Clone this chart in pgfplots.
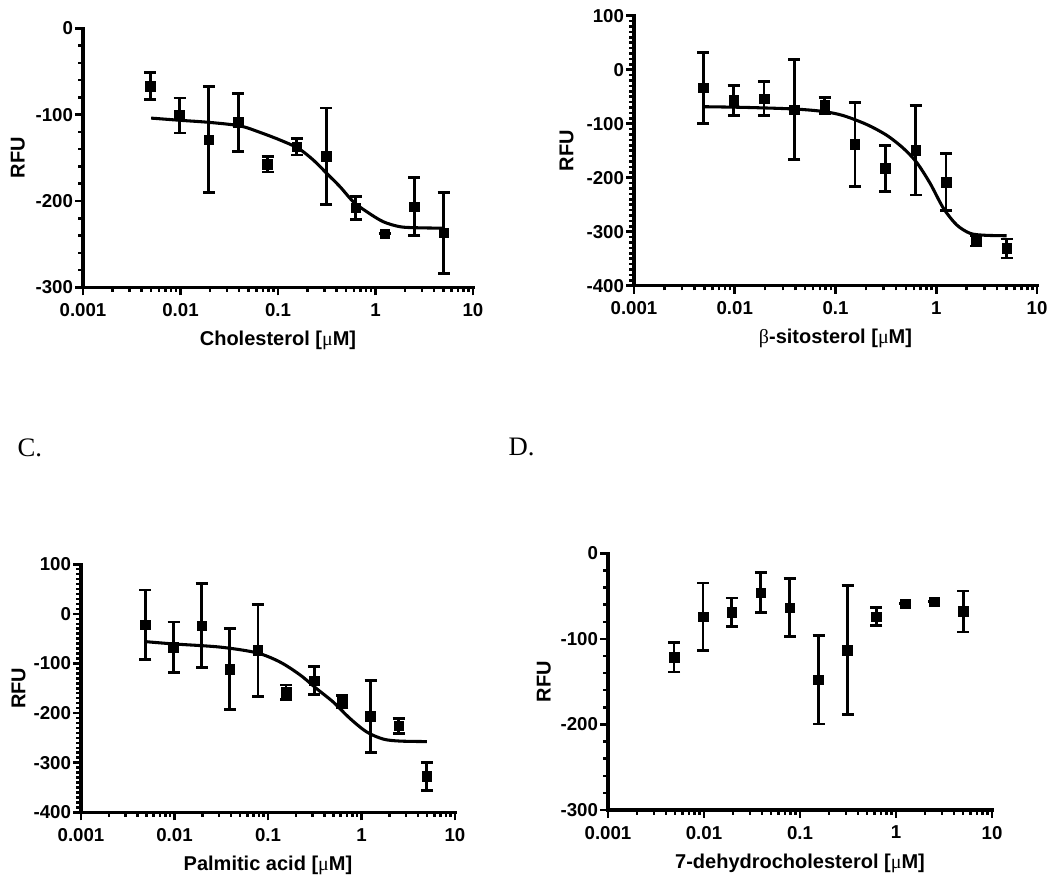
\documentclass[border=0pt]{standalone}
\usepackage{pgfplots}
\pgfplotsset{compat=1.18}
\usepackage{fontspec}
\setmainfont{Liberation Sans}
\newfontfamily\serifsym{Liberation Serif}
\newcommand{\mus}{{\serifsym\mdseries μ}}
\newcommand{\betas}{{\serifsym\mdseries β}}
\pgfplotsset{
  every axis/.append style={
    scale only axis,
    xmin=0.001, xmax=10,
    axis x line*=bottom, axis y line*=left,
    axis line style={line width=2.5pt, line cap=rect},
    tick align=outside,
    major tick length=6pt, minor tick length=3.5pt,
    xtick={0.001,0.01,0.1,1,10},
    xticklabels={0.001,0.01,0.1,1,10},
    minor xtick={0.002,0.003,0.004,0.005,0.006,0.007,0.008,0.009,
                 0.02,0.03,0.04,0.05,0.06,0.07,0.08,0.09,
                 0.2,0.3,0.4,0.5,0.6,0.7,0.8,0.9,
                 2,3,4,5,6,7,8,9},
    tick label style={font=\fontsize{14}{16}\selectfont\bfseries},
    xticklabel style={yshift=-2.5pt},
    yticklabel style={xshift=2pt},
    label style={font=\fontsize{15}{18}\selectfont\bfseries},
    xlabel style={at={(axis description cs:0.5,0)}, anchor=center, yshift=-39.75pt},
    ylabel style={at={(axis description cs:-0.167,0.5)}, anchor=center},
    ylabel={RFU},
    clip=false,
  },
  every tick/.append style={line width=1.9pt, black},
}
\begin{document}
\begin{tikzpicture}
\path[use as bounding box] (0,0) rectangle (787.5pt,663pt);

% Panel A
\begin{semilogxaxis}[at={(62.25pt,447.5pt)}, anchor=south west,
  width=292.5pt, height=194.25pt,
  ymin=-300, ymax=0, ytick={-300,-200,-100,0}, yticklabels={-300,-200,-100,0},
  minor y tick num=4,
  xlabel={Cholesterol [\mus M]}]
\addplot[black, line width=2.3pt, smooth, no markers] coordinates {
 (0.005,-104) (0.0098,-106.5) (0.02,-109) (0.0407,-113) (0.0653,-120.5)
 (0.105,-129.4) (0.1615,-139) (0.23,-152.5) (0.316,-168) (0.433,-183.5)
 (0.592,-200.9) (0.812,-212.4) (1.2,-224) (1.78,-229.8) (2.65,-231) (5,-231.5)};
\addplot[only marks, mark=square*, mark size=3.6pt, black,
  error bars/.cd, y dir=both, y explicit,
  error bar style={line width=2.1pt, black},
  error mark options={rotate=90, line width=2.1pt, mark size=4.5pt, black}] coordinates {
 (0.00488,-66.8) +- (0,15.2)
 (0.00977,-101) +- (0,20.3)
 (0.0195,-129) +- (0,61.5)
 (0.0391,-109) +- (0,33.5)
 (0.0781,-157.5) +- (0,9)
 (0.156,-137) +- (0,9.7)
 (0.3125,-148) +- (0,55.8)
 (0.625,-208) +- (0,13)
 (1.25,-238) +- (0,0)
 (2.5,-206.6) +- (0,33.5)
 (5,-237) +- (0,47)};
\end{semilogxaxis}

% Panel B
\begin{semilogxaxis}[at={(475.5pt,448.7pt)}, anchor=south west,
  width=302.25pt, height=202.5pt,
  ymin=-400, ymax=100, ytick={-400,-300,-200,-100,0,100},
  yticklabels={-400,-300,-200,-100,0,100},
  minor y tick num=9,
  xlabel={\betas-sitosterol [\mus M]}]
\addplot[black, line width=2.3pt, smooth, no markers] coordinates {
 (0.0049,-68.5) (0.0128,-69.8) (0.0394,-72.8) (0.0759,-77.4) (0.1197,-85)
 (0.2045,-101.5) (0.323,-121.5) (0.472,-145.6) (0.641,-172) (0.869,-210.4)
 (1.18,-256.7) (1.6,-287.6) (2.17,-303) (3.0,-306.5) (5,-307.5)};
\addplot[only marks, mark=square*, mark size=3.6pt, black,
  error bars/.cd, y dir=both, y explicit,
  error bar style={line width=2.1pt, black},
  error mark options={rotate=90, line width=2.1pt, mark size=4.5pt, black}] coordinates {
 (0.00488,-33.5) +- (0,66)
 (0.00977,-57) +- (0,27.5)
 (0.0195,-53.5) +- (0,31.5)
 (0.0391,-74) +- (0,92.5)
 (0.0781,-66) +- (0,15)
 (0.156,-138) +- (0,78)
 (0.3125,-183) +- (0,42)
 (0.625,-149) +- (0,83)
 (1.25,-208) +- (0,53)
 (2.5,-317) +- (0,9.5)
 (5,-331) +- (0,17.5)};
\end{semilogxaxis}

% Panel C
\begin{semilogxaxis}[at={(60.75pt,53.8pt)}, anchor=south west,
  width=280.5pt, height=186pt,
  ymin=-400, ymax=100, ytick={-400,-300,-200,-100,0,100},
  yticklabels={-400,-300,-200,-100,0,100},
  minor y tick num=9,
  xlabel={Palmitic acid [\mus M]}]
\addplot[black, line width=2.3pt, smooth, no markers] coordinates {
 (0.00483,-55.9) (0.00973,-60.6) (0.0307,-67) (0.0757,-78.5) (0.134,-97)
 (0.22,-123) (0.332,-151) (0.5,-178) (0.754,-211) (1.135,-238)
 (1.71,-252.5) (2.58,-256.5) (5,-257.5)};
\addplot[only marks, mark=square*, mark size=3.6pt, black,
  error bars/.cd, y dir=both, y explicit,
  error bar style={line width=2.1pt, black},
  error mark options={rotate=90, line width=2.1pt, mark size=4.5pt, black}] coordinates {
 (0.00488,-22.3) +- (0,70.5)
 (0.00977,-67.3) +- (0,51)
 (0.0195,-23.7) +- (0,84.4)
 (0.0391,-111.7) +- (0,81.7)
 (0.0781,-74) +- (0,92.4)
 (0.156,-158) +- (0,14.7)
 (0.3125,-134.5) +- (0,28.2)
 (0.625,-176) +- (0,12)
 (1.25,-207) +- (0,73)
 (2.5,-226) +- (0,15.5)
 (5,-328) +- (0,28.5)};
\end{semilogxaxis}

% Panel D
\begin{semilogxaxis}[at={(456pt,55.5pt)}, anchor=south west,
  width=288pt, height=192.5pt,
  ymin=-300, ymax=0, ytick={-300,-200,-100,0}, yticklabels={-300,-200,-100,0},
  minor y tick num=4,
  xlabel={7-dehydrocholesterol [\mus M]}]
\addplot[only marks, mark=square*, mark size=3.6pt, black,
  error bars/.cd, y dir=both, y explicit,
  error bar style={line width=2.1pt, black},
  error mark options={rotate=90, line width=2.1pt, mark size=4.5pt, black}] coordinates {
 (0.00488,-121.5) +- (0,17.1)
 (0.00977,-74) +- (0,39.4)
 (0.0195,-69) +- (0,16.7)
 (0.0391,-46) +- (0,23.5)
 (0.0781,-63.5) +- (0,34)
 (0.156,-148) +- (0,51.6)
 (0.3125,-113) +- (0,75)
 (0.625,-74) +- (0,10.5)
 (1.25,-59) +- (0,0)
 (2.5,-56.5) +- (0,0)
 (5,-68) +- (0,24)};
\end{semilogxaxis}

\node[anchor=base west, font=\fontsize{20}{24}\selectfont\serifsym] at (9.75pt,320.25pt) {C.};
\node[anchor=base west, font=\fontsize{20}{24}\selectfont\serifsym] at (378pt,321pt) {D.};
\end{tikzpicture}
\end{document}
